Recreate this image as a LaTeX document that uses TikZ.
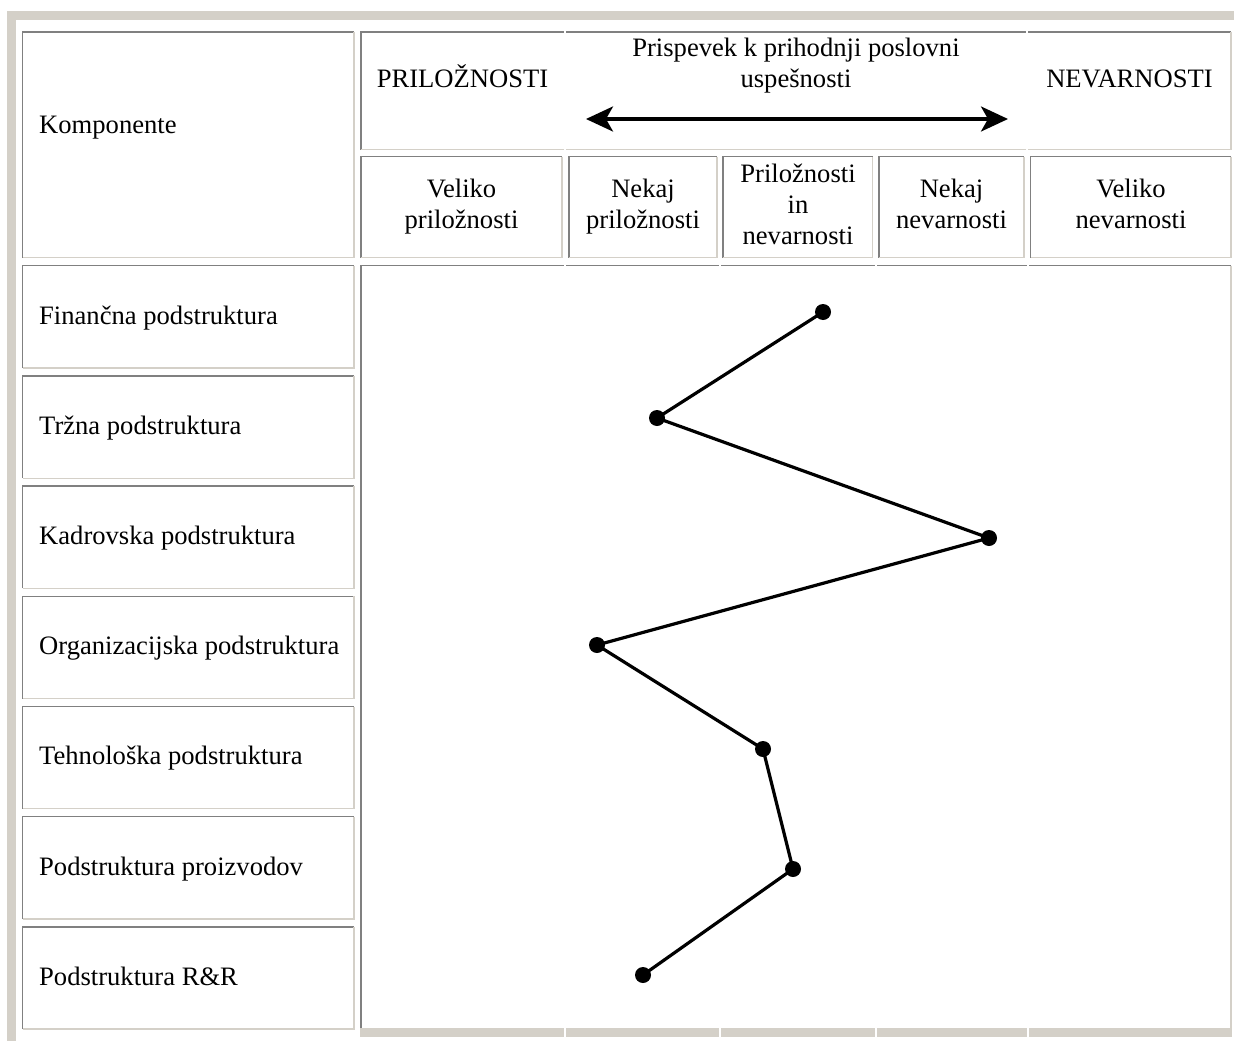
\documentclass[tikz,border=0pt]{standalone}
\usepackage{fontspec}
\setmainfont{Liberation Serif}
\usetikzlibrary{arrows.meta}

\definecolor{edgedark}{HTML}{808080}
\definecolor{edgelight}{HTML}{D4D0C8}

\tikzset{
	darkedge/.style={draw=edgedark,line width=1.35pt},
	lightedge/.style={draw=edgelight,line width=1.35pt},
	celltext/.style={inner sep=0pt,font=\fontsize{26.6}{31}\selectfont},
	rowlabel/.style={celltext,anchor=base west},
	colhead/.style={celltext,anchor=base,align=center},
	dot/.style={circle,fill=black,inner sep=0pt,minimum size=16pt},
	trend/.style={line width=3.2pt,line cap=round}
}

% inset cell frame: x1, y1, x2, y2
\newcommand\insetbox[4]{%
	\draw[darkedge] (#1,#4) -- (#1,#2) -- (#3,#2);
	\draw[lightedge] (#3,#2) -- (#3,#4) -- (#1,#4);
}

\begin{document}
\begin{tikzpicture}[x=1pt,y=-1pt,>/.tip={Stealth[length=27pt,width=25pt,inset=7pt]}]
	\useasboundingbox (0,0) rectangle (1234,1041);
	% outer frame
	\fill[edgelight] (7,11) rectangle (1234,20);
	\fill[edgelight] (7,11) rectangle (16,1041);

	% header
	\insetbox{22.5}{32}{354}{257.5}
	\node (komp) [rowlabel] at (39,133) {Komponente};

	\draw[darkedge] (361,149.7) -- (361,32) -- (564,32);
	\draw[darkedge] (566,32) -- (1026,32);
	\draw[darkedge] (1028,32) -- (1231,32);
	\draw[lightedge] (1231,32) -- (1231,149.7) -- (1028,149.7);
	\draw[lightedge] (1026,149.7) -- (566,149.7);
	\draw[lightedge] (564,149.7) -- (361,149.7);
	\node (opp) [colhead] at (462.5,87) {PRILOŽNOSTI};
	\node (contrib) [colhead] at (796,87) {Prispevek k prihodnji poslovni\\uspešnosti};
	\node (thr) [colhead] at (1129.5,87) {NEVARNOSTI};
	\coordinate (arrL) at (586,119);
	\coordinate (arrR) at (1008,119);
	\draw[<->,line width=3.3pt] (arrL) -- (arrR);

	\insetbox{361}{156.7}{562}{257.5}
	\insetbox{569}{156.7}{717}{257.5}
	\insetbox{723}{156.7}{872.7}{257.5}
	\insetbox{879}{156.7}{1024}{257.5}
	\insetbox{1030.7}{156.7}{1231}{257.5}
	\node (bigopp) [colhead] at (461.5,228) {Veliko\\priložnosti};
	\node (someopp) [colhead] at (643,228) {Nekaj\\priložnosti};
	\node (both) [colhead] at (798,244) {Priložnosti\\in\\nevarnosti};
	\node (somethr) [colhead] at (951.5,228) {Nekaj\\nevarnosti};
	\node (bigthr) [colhead] at (1131,228) {Veliko\\nevarnosti};

	% components
	\insetbox{22.5}{265.7}{354}{368}
	\insetbox{22.5}{375.9}{354}{478.2}
	\insetbox{22.5}{486.1}{354}{588.4}
	\insetbox{22.5}{596.3}{354}{698.6}
	\insetbox{22.5}{706.5}{354}{808.8}
	\insetbox{22.5}{816.7}{354}{919}
	\insetbox{22.5}{926.9}{354}{1029}
	\node (fin) [rowlabel] at (39,324) {Finančna podstruktura};
	\node (mkt) [rowlabel] at (39,434.2) {Tržna podstruktura};
	\node (hr) [rowlabel] at (39,544.4) {Kadrovska podstruktura};
	\node (org) [rowlabel] at (39,654.6) {Organizacijska podstruktura};
	\node (tech) [rowlabel] at (39,764.8) {Tehnološka podstruktura};
	\node (prod) [rowlabel] at (39,875) {Podstruktura proizvodov};
	\node (rd) [rowlabel] at (39,985.2) {Podstruktura R\&R};

	% plot area
	\draw[darkedge] (361,1028) -- (361,265.7) -- (564,265.7);
	\draw[darkedge] (566,265.7) -- (719,265.7);
	\draw[darkedge] (721,265.7) -- (875,265.7);
	\draw[darkedge] (877,265.7) -- (1027,265.7);
	\draw[darkedge] (1029,265.7) -- (1231,265.7);
	\draw[lightedge] (1231,265.7) -- (1231,1028);
	\fill[edgelight] (360.3,1028) rectangle (564,1037);
	\fill[edgelight] (566,1028) rectangle (719,1037);
	\fill[edgelight] (721,1028) rectangle (875,1037);
	\fill[edgelight] (877,1028) rectangle (1027,1037);
	\fill[edgelight] (1029,1028) rectangle (1231.7,1037);

	\node (p1) [dot] at (823,312) {};
	\node (p2) [dot] at (657,418) {};
	\node (p3) [dot] at (989,538) {};
	\node (p4) [dot] at (597,645) {};
	\node (p5) [dot] at (763,749) {};
	\node (p6) [dot] at (793,869) {};
	\node (p7) [dot] at (643,975) {};
	\draw[trend] (p1.center) -- (p2.center) -- (p3.center) -- (p4.center) -- (p5.center) -- (p6.center) -- (p7.center);
\end{tikzpicture}
\end{document}
